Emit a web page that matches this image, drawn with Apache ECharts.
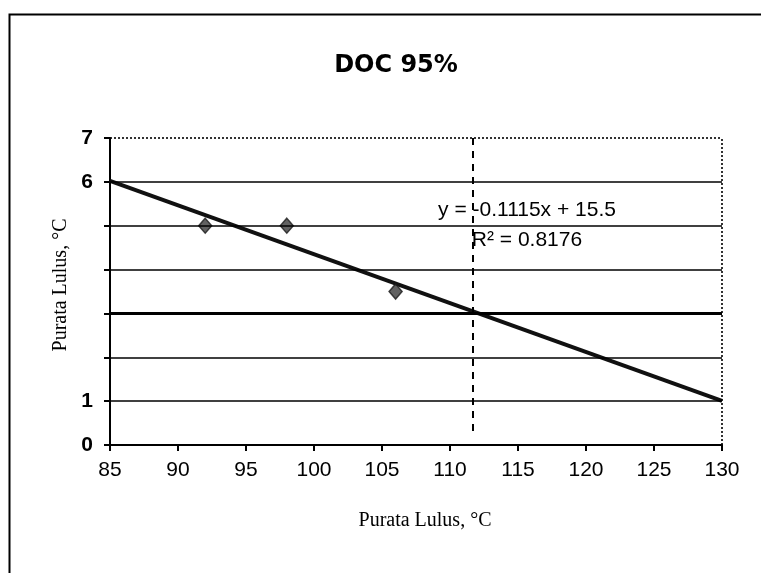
<!DOCTYPE html>
<html><head><meta charset="utf-8">
<script src="https://cdn.jsdelivr.net/npm/echarts@6/dist/echarts.min.js"></script>
<style>html,body{margin:0;padding:0;background:#fff}#c{width:761px;height:573px}</style>
</head><body><div id="c"></div>
<script>
// ---- data ----
const chartTitle = 'DOC 95%';
const xAxisName = 'Purata Lulus, °C';
const yAxisName = 'Purata Lulus, °C';
const xValues = [92, 98, 106];
const yValues = [5, 5, 3.5];
const xTickLabels = ['85', '90', '95', '100', '105', '110', '115', '120', '125', '130'];
const yTickLabels = ['0', '1', '', '', '', '', '6', '7'];
const gridLevels = [1, 2, 3, 4, 5, 6];
const referenceX = [111.7];

// ---- least-squares trend line from the points ----
const n = xValues.length;
const mx = xValues.reduce((a, b) => a + b, 0) / n;
const my = yValues.reduce((a, b) => a + b, 0) / n;
let sxx = 0, sxy = 0, syy = 0;
for (let i = 0; i < n; i++) {
  sxx += (xValues[i] - mx) ** 2;
  sxy += (xValues[i] - mx) * (yValues[i] - my);
  syy += (yValues[i] - my) ** 2;
}
const slope = sxy / sxx;
const intercept = my - slope * mx;
const r2 = (sxy * sxy) / (sxx * syy);
const xMin = Number(xTickLabels[0]);
const xMax = Number(xTickLabels[xTickLabels.length - 1]);
const trend = [[xMin, intercept + slope * xMin], [xMax, intercept + slope * xMax]];
const eqText = 'y = ' + (slope < 0 ? '-' : '') + Math.abs(slope).toFixed(4) + 'x + ' + parseFloat(intercept.toFixed(4));
const r2Text = 'R\u00B2 = ' + r2.toFixed(4);

const yMax = yTickLabels.length - 1;
const markData = gridLevels.map(v => ({
  yAxis: v,
  lineStyle: { color: '#000', width: v === 3 ? 3 : 1.6, type: 'solid' }
}));
markData.push({ yAxis: yMax, lineStyle: { color: '#000', width: 1.6, type: [2, 2] } });
markData.push({ xAxis: xMax, lineStyle: { color: '#000', width: 1.6, type: [2, 2] } });
referenceX.forEach(x => markData.push([
  { coord: [x, yMax], lineStyle: { color: '#000', width: 2, type: [7, 6] } },
  { coord: [x, 0.3] }
]));

const chart = echarts.init(document.getElementById('c'), null, { renderer: 'canvas' });
chart.setOption({
  backgroundColor: '#fff',
  animation: false,
  title: {
    text: chartTitle, left: 391, top: 49, textAlign: 'center',
    textStyle: { fontFamily: 'DejaVu Sans', fontWeight: 'bold', fontSize: 24, color: '#000' }
  },
  grid: { left: 110, right: 39, top: 138, bottom: 128 },
  xAxis: {
    type: 'value', min: xMin, max: xMax, interval: 5,
    name: xAxisName, nameLocation: 'middle', nameGap: 66,
    nameTextStyle: { fontFamily: 'Liberation Serif', fontSize: 20, color: '#000', padding: [0, 0, 0, 18] },
    axisLine: { show: true, onZero: false, lineStyle: { color: '#000', width: 2 } },
    axisTick: { show: true, length: 6, lineStyle: { color: '#000', width: 2 } },
    axisLabel: { margin: 15, fontFamily: 'Liberation Sans', fontSize: 21, color: '#000',
      formatter: v => xTickLabels[Math.round((v - xMin) / 5)] },
    splitLine: { show: false }
  },
  yAxis: {
    type: 'value', min: 0, max: yMax, interval: 1,
    name: yAxisName, nameLocation: 'middle', nameGap: 32,
    nameTextStyle: { fontFamily: 'Liberation Serif', fontSize: 20, color: '#000', padding: [0, 0, 0, 13] },
    axisLine: { show: true, onZero: false, lineStyle: { color: '#000', width: 2 } },
    axisTick: { show: true, length: 6, lineStyle: { color: '#000', width: 2 } },
    axisLabel: { margin: 17, fontFamily: 'Liberation Sans', fontSize: 21, fontWeight: 'bold', color: '#000',
      formatter: v => yTickLabels[Math.round(v)] },
    splitLine: { show: false }
  },
  graphic: [
    { type: 'rect', left: 7, top: 12, shape: { width: 800, height: 600 },
      style: { fill: 'none', stroke: '#000', lineWidth: 2 }, silent: true, z: 100 },
    { type: 'text', x: 527, y: 210, z: 100,
      style: { text: eqText, textAlign: 'center', textVerticalAlign: 'middle',
        font: '21px "Liberation Sans"', fill: '#000' } },
    { type: 'text', x: 527, y: 240, z: 100,
      style: { text: r2Text, textAlign: 'center', textVerticalAlign: 'middle',
        font: '21px "Liberation Sans"', fill: '#000' } }
  ],
  series: [
    {
      type: 'line', data: [], silent: true,
      markLine: { silent: true, symbol: 'none', label: { show: false }, data: markData, animation: false }
    },
    {
      type: 'line', data: trend, symbol: 'none', silent: true,
      lineStyle: { color: '#111', width: 4 }, z: 3
    },
    {
      type: 'scatter', data: xValues.map((x, i) => [x, yValues[i]]),
      symbol: 'diamond', symbolSize: [13, 15],
      itemStyle: { color: '#3a3a3a', borderColor: '#1a1a1a', borderWidth: 1.5 }, z: 4
    }
  ]
});
</script></body></html>
